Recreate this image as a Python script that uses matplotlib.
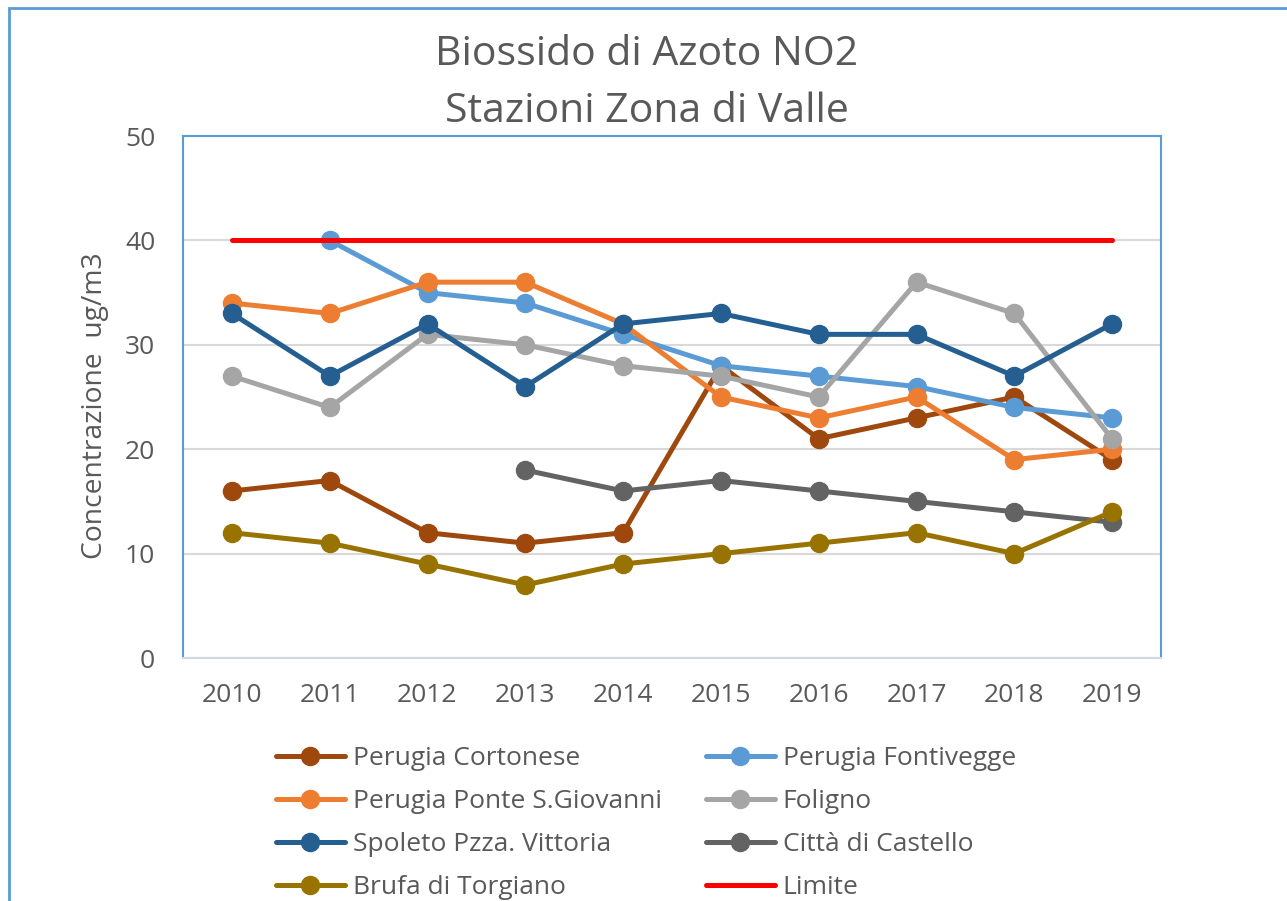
import matplotlib
matplotlib.use("Agg")
import matplotlib.pyplot as plt
from matplotlib.patches import Rectangle
import numpy as np

plt.rcParams["font.family"] = ["Open Sans", "DejaVu Sans"]

years = ["2010", "2011", "2012", "2013", "2014", "2015", "2016", "2017", "2018", "2019"]
nan = np.nan

cortonese = [16, 17, 12, 11, 12, 28, 21, 23, 25, 19]
fontivegge = [nan, 40, 35, 34, 31, 28, 27, 26, 24, 23]
ponte_sgiovanni = [34, 33, 36, 36, 32, 25, 23, 25, 19, 20]
foligno = [27, 24, 31, 30, 28, 27, 25, 36, 33, 21]
spoleto = [33, 27, 32, 26, 32, 33, 31, 31, 27, 32]
citta_castello = [nan, nan, nan, 18, 16, 17, 16, 15, 14, 13]
brufa = [12, 11, 9, 7, 9, 10, 11, 12, 10, 14]
limite = [40] * 10

series = [
    ("Perugia Cortonese", cortonese, "#9E480E"),
    ("Perugia Fontivegge", fontivegge, "#5B9BD5"),
    ("Perugia Ponte S.Giovanni", ponte_sgiovanni, "#ED7D31"),
    ("Foligno", foligno, "#A5A5A5"),
    ("Spoleto Pzza. Vittoria", spoleto, "#255E91"),
    ("Città di Castello", citta_castello, "#636363"),
    ("Brufa di Torgiano", brufa, "#997300"),
]

W, H = 1287, 901
fig = plt.figure(figsize=(W / 100, H / 100), dpi=100)

# outer chart border (runs off the right and bottom edges)
fig.patches.append(Rectangle((9 / W, -0.1), 1.2, 1 - 7.5 / H + 0.1, transform=fig.transFigure,
                             fill=False, edgecolor="#5B9BD5", linewidth=2, clip_on=False))

ax = fig.add_axes([183 / W, (H - 658) / H, (1161 - 183) / W, (658 - 136) / H])
x = np.arange(len(years))

handles = {}
for name, vals, col in series:
    h, = ax.plot(x, vals, color=col, linewidth=3.6, marker="o", markersize=13,
                 solid_capstyle="round", label=name)
    handles[name] = h
h, = ax.plot(x, limite, color="#FF0000", linewidth=3.6, solid_capstyle="round", label="Limite")
handles["Limite"] = h

ax.set_xlim(-0.5, len(years) - 0.5)
ax.set_ylim(0, 50)
ax.set_yticks(range(0, 51, 10))
ax.set_xticks(x)
ax.set_xticklabels(years)
ax.tick_params(length=0, labelsize=19, labelcolor="#595959")
ax.tick_params(axis="y", pad=20)
ax.tick_params(axis="x", pad=18)
ax.grid(axis="y", color="#D9D9D9", linewidth=1.5)
ax.set_axisbelow(True)
for s in ["top", "left", "right"]:
    ax.spines[s].set_color("#5B9BD5")
    ax.spines[s].set_linewidth(1.5)
ax.spines["bottom"].set_color("#D0D8E0")
ax.spines["bottom"].set_linewidth(1.5)

fig.text(647 / W, 1 - 83 / H, "Biossido di Azoto NO2\nStazioni Zona di Valle",
         ha="center", va="center", fontsize=29.5, color="#595959", linespacing=1.55)
fig.text(95 / W, 1 - 406 / H, "Concentrazione  ug/m3", rotation=90,
         ha="center", va="center", fontsize=20.3, color="#595959")

col1 = ["Perugia Cortonese", "Perugia Ponte S.Giovanni", "Spoleto Pzza. Vittoria", "Brufa di Torgiano"]
col2 = ["Perugia Fontivegge", "Foligno", "Città di Castello", "Limite"]
for names, x0 in [(col1, 276), (col2, 706)]:
    leg = fig.legend([handles[n] for n in names], names, loc="upper left",
                     bbox_to_anchor=(x0 / W, 1 - 746 / H), frameon=False, fontsize=19,
                     handlelength=2.6, handletextpad=0.3, labelspacing=0.68,
                     borderpad=0, borderaxespad=0, labelcolor="#595959")

fig.savefig("out.png", dpi=100)
